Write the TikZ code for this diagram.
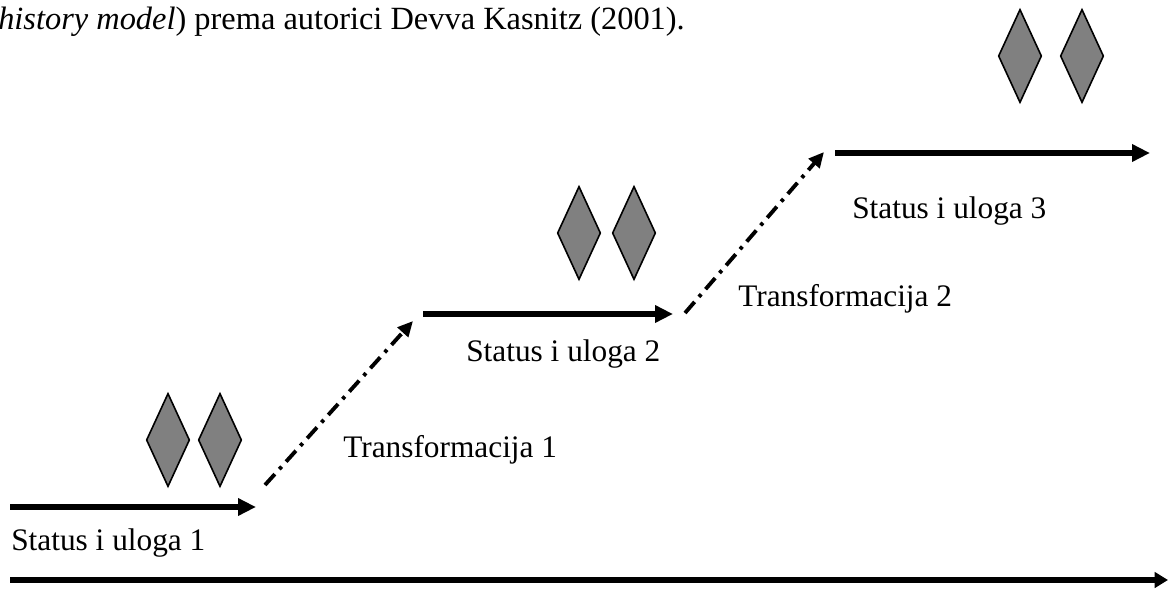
\documentclass[tikz,border=0pt]{standalone}
\usepackage{fontspec}
\setmainfont{Liberation Serif}
\usetikzlibrary{arrows.meta,shapes.geometric}
\begin{document}
\begin{tikzpicture}[x=0.75pt,y=-0.75pt,
  lbl/.style={anchor=base west,inner sep=0pt,font=\fontsize{23.5pt}{28pt}\selectfont},
  gem/.style={diamond,draw=black,line width=1.2pt,fill={rgb,255:red,128;green,128;blue,128},minimum width=32.5pt,minimum height=70pt,inner sep=0pt},
  stage/.style={line width=4.1pt,-{Triangle[length=13.5pt,width=12.5pt]}},
  trans/.style={line width=2.9pt,dash pattern=on 11pt off 5pt on 2.6pt off 5pt,-{Triangle[length=11.5pt,width=10.5pt]}},
  axis/.style={line width=4.6pt,-{Triangle[length=10pt,width=11.5pt]}}]
\useasboundingbox (0,0) rectangle (1168,589);
% top text
\node[lbl,font=\fontsize{24.3pt}{29pt}\selectfont] (title) at (-2,29) {\textit{history model}) prema autorici Devva Kasnitz (2001).};
% axis
\coordinate (ax1) at (10,580);
\coordinate (ax2) at (1168,580);
\draw[axis] (ax1) -- (ax2);
% stage 1
\coordinate (s1a) at (10,507);
\coordinate (s1b) at (256,507);
\draw[stage] (s1a) -- (s1b);
\node[lbl] (l1) at (11,550) {Status i uloga 1};
\node[gem] (d1a) at (168,440) {};
\node[gem] (d1b) at (220,440) {};
% transformation 1
\coordinate (t1a) at (265,485);
\coordinate (t1b) at (413,321);
\draw[trans] (t1a) -- (t1b);
\node[lbl] (lt1) at (343,457) {Transformacija 1};
% stage 2
\coordinate (s2a) at (423,314);
\coordinate (s2b) at (673,314);
\draw[stage] (s2a) -- (s2b);
\node[lbl] (l2) at (466,361) {Status i uloga 2};
\node[gem] (d2a) at (579,233) {};
\node[gem] (d2b) at (634,233) {};
% transformation 2
\coordinate (t2a) at (685,313);
\coordinate (t2b) at (824,152);
\draw[trans] (t2a) -- (t2b);
\node[lbl] (lt2) at (738,306) {Transformacija 2};
% stage 3
\coordinate (s3a) at (835,153);
\coordinate (s3b) at (1150,153);
\draw[stage] (s3a) -- (s3b);
\node[lbl] (l3) at (852,218) {Status i uloga 3};
\node[gem] (d3a) at (1020,56) {};
\node[gem] (d3b) at (1082,56) {};
\end{tikzpicture}
\end{document}
